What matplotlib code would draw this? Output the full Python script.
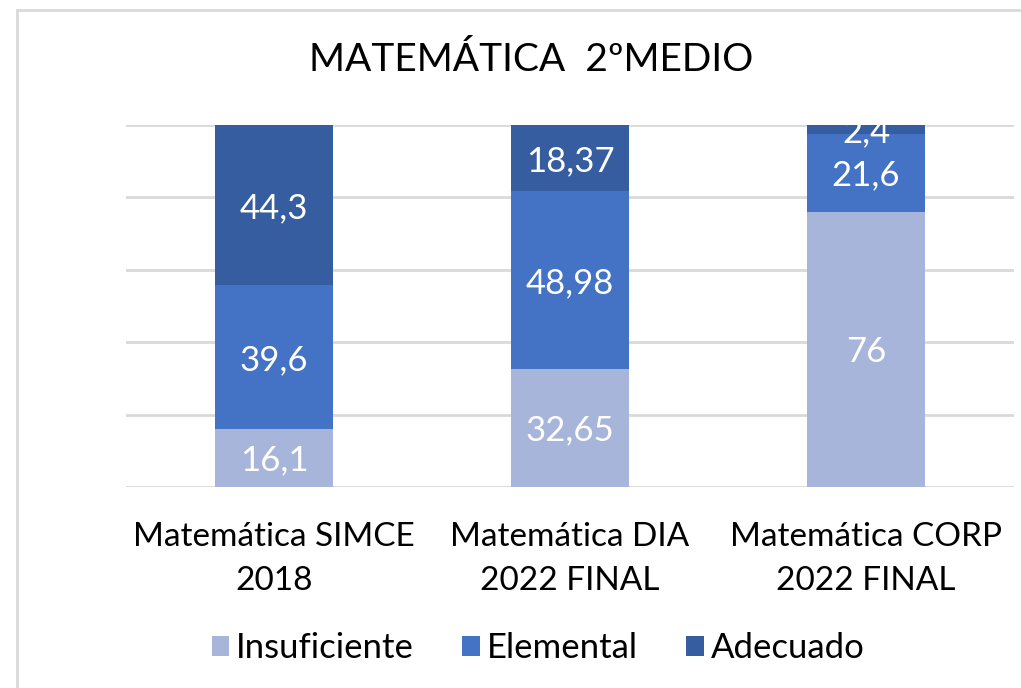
import matplotlib.pyplot as plt
import numpy as np
from matplotlib.lines import Line2D

# Data (percentages)
categories = ['Matemática SIMCE\n2018', 'Matemática DIA\n2022 FINAL', 'Matemática CORP\n2022 FINAL']
series_names = ['Insuficiente', 'Elemental', 'Adecuado']
insuficiente = [16.1, 32.65, 76]
elemental = [39.6, 48.98, 21.6]
adecuado = [44.3, 18.37, 2.4]
value_labels = [['16,1', '32,65', '76'], ['39,6', '48,98', '21,6'], ['44,3', '18,37', '2,4']]

colors = ['#A7B5DA', '#4472C4', '#355D9F']

plt.rcParams['font.family'] = ['Lato', 'DejaVu Sans']

fig = plt.figure(figsize=(10.21, 6.88), dpi=100)
ax = fig.add_axes([126 / 1021, 201 / 688, (1014 - 126) / 1021, (487 - 125) / 688])

x = np.arange(len(categories))
bottom = np.zeros(len(categories))
for vals, name, col, labs in zip([insuficiente, elemental, adecuado], series_names, colors, value_labels):
    vals = np.array(vals)
    ax.bar(x, vals, width=0.4, bottom=bottom, color=col, label=name, zorder=2)
    for xi, b, v, lab in zip(x, bottom, vals, labs):
        ax.annotate(lab, (xi, b + v / 2), xytext=(0, -2), textcoords='offset points',
                    ha='center', va='center', color='white', fontsize=25,
                    annotation_clip=False, clip_on=True, zorder=3)
    bottom = bottom + vals

ax.set_xlim(-0.5, 2.5)
ax.set_ylim(0, 100)
ax.set_yticks([0, 20, 40, 60, 80, 100])
ax.yaxis.grid(True, color='#D9D9D9', linewidth=2, zorder=0)
ax.tick_params(axis='y', left=False, labelleft=False)
ax.tick_params(axis='x', bottom=False, labelsize=24, pad=22)
ax.set_xticks(x)
ax.set_xticklabels(categories, linespacing=1.55)
for s in ax.spines.values():
    s.set_visible(False)

fig.text(531 / 1021, 1 - 60 / 688, 'MATEMÁTICA  2ºMEDIO', ha='center', va='center', fontsize=28)

leg = fig.legend(loc='center', bbox_to_anchor=(538 / 1021, 1 - 648 / 688), ncol=3, frameon=False,
                 fontsize=25, handlelength=0.5, handleheight=0.5, handletextpad=0.2,
                 columnspacing=1.4)

# light grey chart-area border (only top and left edges fall inside the picture)
fig.add_artist(Line2D([17 / 1021, 17 / 1021], [0, 1 - 10 / 688], transform=fig.transFigure,
                      color='#D9D9D9', linewidth=2))
fig.add_artist(Line2D([17 / 1021, 1], [1 - 10 / 688, 1 - 10 / 688], transform=fig.transFigure,
                      color='#D9D9D9', linewidth=2))

fig.savefig('out.png', dpi=100)
